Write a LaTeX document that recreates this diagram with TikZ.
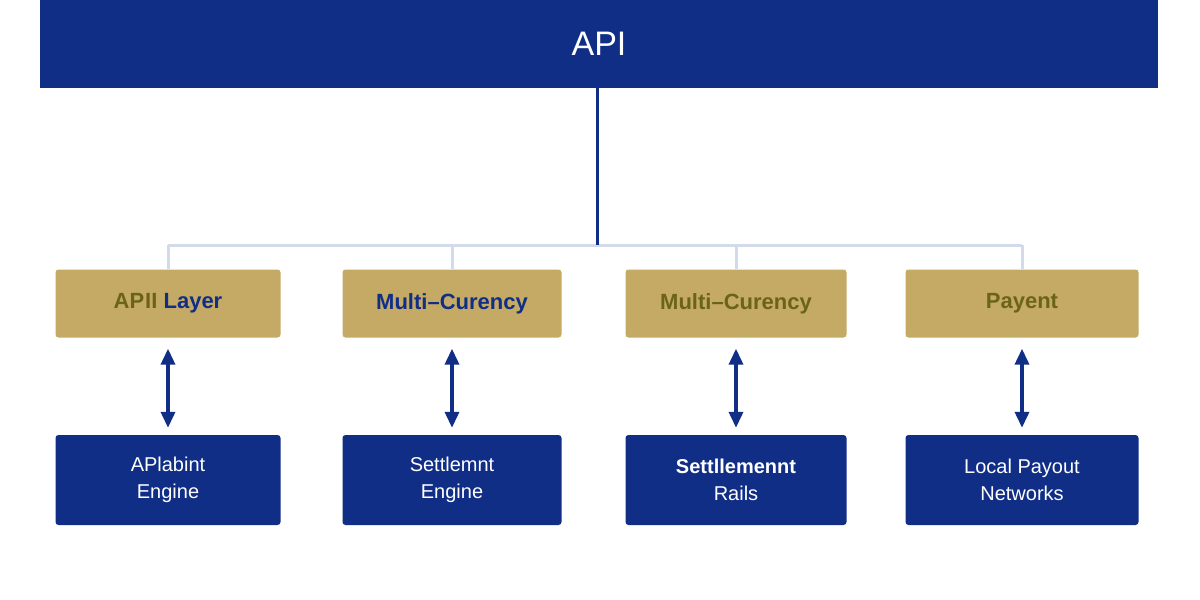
\documentclass[tikz,border=0pt]{standalone}
\usepackage{fontspec}
\setmainfont{Liberation Sans}
\usetikzlibrary{arrows.meta}
\definecolor{navy}{HTML}{102E86}
\definecolor{gold}{HTML}{C4AA64}
\definecolor{olive}{HTML}{6B6418}
\definecolor{lightl}{HTML}{D3DAEA}
\begin{document}
\begin{tikzpicture}[x=1pt,y=-1pt,
 gbox/.style={fill=gold,rounded corners=3pt,minimum height=68pt,inner sep=0pt,font=\fontsize{22}{24}\selectfont\bfseries},
 bbox/.style={fill=navy,rounded corners=3pt,minimum height=90pt,inner sep=0pt,text=white,align=center,font=\fontsize{20}{27}\selectfont},
 arr/.style={navy,line width=3.5pt,{Triangle[width=14pt,length=16pt]}-{Triangle[width=14pt,length=16pt]}}]
\useasboundingbox (0,0) rectangle (1200,600);
\fill[white] (0,0) rectangle (1200,600);
\node[fill=navy,minimum width=1118pt,minimum height=88pt,inner sep=0pt,text=white,font=\fontsize{34}{36}\selectfont] (api) at (599,44) {API};
\coordinate (j) at (597,245);
\foreach \x/\g/\gt/\gc/\bt/\n [count=\i] in {
 168/225/{AP\kern1ptII \textcolor{navy}{Layer}}/olive/{APlabint\\Engine}/a,
 452/219/{Multi--Curency}/navy/{Settlemnt\\Engine}/b,
 736/221/{Multi--Curency}/olive/{\textbf{Settllemennt}\\Rails}/c,
 1022/233/{Payent}/olive/{Local Payout\\Networks}/d}{
 \node[gbox,minimum width=\g pt,text=\gc] (g\n) at (\x,303.5) {\gt};
 \node[bbox,minimum width=\g pt] (b\n) at (\x,480) {\bt};
 \draw[arr] ([yshift=-11pt]g\n.south) -- ([yshift=7pt]b\n.north);
}
\draw[lightl,line width=3pt] (ga.north |- j) -- (gd.north |- j);
\foreach \n in {a,b,c,d} \draw[lightl,line width=3pt] (g\n.north |- j) -- (g\n.north);
\draw[navy,line width=3pt] (api.south -| j) -- (j);
\end{tikzpicture}
\end{document}
